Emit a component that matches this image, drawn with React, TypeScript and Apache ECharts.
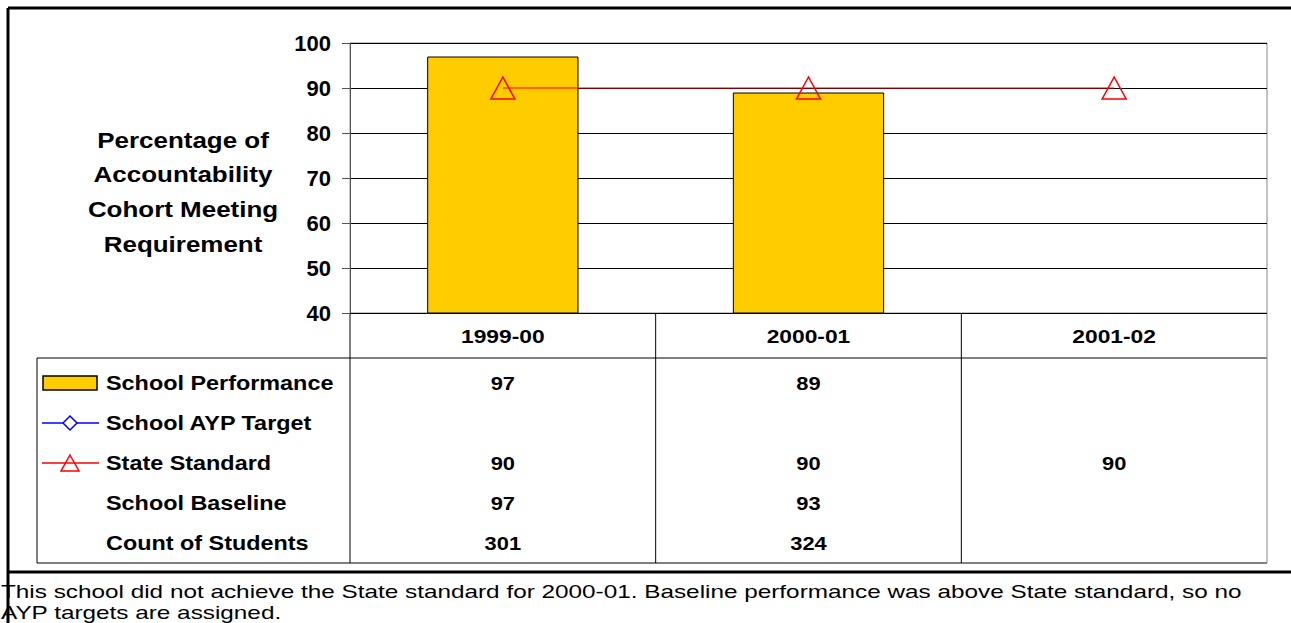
import React, { useEffect, useRef } from "react";
import * as echarts from "echarts";

const categories = ["1999-00", "2000-01", "2001-02"];
const schoolPerformance: (number | null)[] = [97, 89, null];
const aypTarget: (number | null)[] = [null, null, null];
const stateStandard: (number | null)[] = [90, 90, 90];
const schoolBaseline: (number | null)[] = [97, 93, null];
const countStudents: (number | null)[] = [301, 324, null];
const rowLabels = ["School Performance", "School AYP Target", "State Standard", "School Baseline", "Count of Students"];
const yTitle = ["Percentage of", "Accountability", "Cohort Meeting", "Requirement"];
const footnote = [
  "This school did not achieve the State standard for 2000-01. Baseline performance was above State standard, so no",
  "AYP targets are assigned.",
];

const W = 1291, H = 623;
const GL = 350, GR = 1267, GT = 43, GB = 313;
const F = "Arial, 'Liberation Sans', sans-serif";

export default function App() {
  const ref = useRef<HTMLDivElement>(null);
  useEffect(() => {
    const chart = echarts.init(ref.current!, null, { renderer: "svg" });
    const colW = (GR - GL) / categories.length;
    const rowY = [383, 423, 463, 503, 543];
    const rows = [schoolPerformance, aypTarget, stateStandard, schoolBaseline, countStudents];
    const g: any[] = [];
    const ln = (x1: number, y1: number, x2: number, y2: number, w = 1, c = "#000") =>
      g.push({ type: "line", shape: { x1, y1, x2, y2 }, style: { stroke: c, lineWidth: w }, silent: true });
    const tx = (x: number, y: number, text: string, font: string, align: string, sx = 1) =>
      g.push({ type: "text", x, y, scaleX: sx, style: { text, font, fill: "#000", align, verticalAlign: "middle" } });
    // outer frame
    ln(8, 8, W, 8, 3); ln(8, 8, 8, H, 3); ln(8, 572, W, 572, 3);
    // table
    ln(37, 358, GR, 358); ln(37, 563, GR, 563); ln(37, 358, 37, 563);
    for (let i = 0; i <= categories.length; i++) ln(GL + colW * i, 313, GL + colW * i, 563, 1, i === categories.length ? "#888" : "#000");
    categories.forEach((c, i) => tx(GL + colW * (i + 0.5), 336, c, `bold 19px ${F}`, "center", 1.2));
    rowLabels.forEach((l, r) => {
      tx(106, rowY[r], l, `bold 20px ${F}`, "left", 1.17);
      rows[r].forEach((v, i) => {
        if (v != null) tx(GL + colW * (i + 0.5), rowY[r], String(v), `bold 19px ${F}`, "center", 1.15);
      });
    });
    // legend keys
    g.push({ type: "rect", shape: { x: 43, y: 376, width: 54, height: 14 }, style: { fill: "#FFCC00", stroke: "#000", lineWidth: 1.5 } });
    ln(42, 423, 99, 423, 1.5, "#0000ff");
    g.push({ type: "polygon", shape: { points: [[70, 416], [77, 423], [70, 430], [63, 423]] }, style: { fill: "#fff", stroke: "#0000ff", lineWidth: 1.5 } });
    ln(42, 463, 99, 463, 1.5, "#ff0000");
    g.push({ type: "polygon", shape: { points: [[70, 455], [79, 471], [61, 471]] }, style: { fill: "none", stroke: "#ff0000", lineWidth: 1.5 } });
    // y title
    yTitle.forEach((t, i) => tx(183, 140 + i * 34.7, t, `bold 22px ${F}`, "center", 1.18));
    footnote.forEach((t, i) => tx(1, 591 + i * 21, t, `19px ${F}`, "left", 1.28));

    chart.setOption({
      animation: false,
      backgroundColor: "#fff",
      grid: { left: GL, right: W - GR, top: GT, bottom: H - GB, show: true, borderColor: "#888", borderWidth: 1 },
      xAxis: {
        type: "category", data: categories, boundaryGap: true,
        axisLabel: { show: false }, axisTick: { show: false }, axisLine: { show: false },
      },
      yAxis: {
        type: "value", min: 40, max: 100, interval: 10,
        axisLine: { show: true, lineStyle: { color: "#555" } },
        axisTick: { show: true, inside: false, length: 8, lineStyle: { color: "#555" } },
        axisLabel: { fontFamily: F, fontWeight: "bold", fontSize: 22, color: "#000", margin: 19 },
        splitLine: { show: true, lineStyle: { color: "#000", width: 1 } },
      },
      series: [
        { name: "School Performance", type: "bar", data: schoolPerformance, barWidth: "49.5%",
          itemStyle: { color: "#FFCC00", borderColor: "#000", borderWidth: 1 } },
        { name: "School AYP Target", type: "line", data: aypTarget, symbol: "diamond", symbolSize: 14,
          lineStyle: { color: "#0000ff", width: 1 }, itemStyle: { color: "#fff", borderColor: "#0000ff" } },
        { name: "State Standard", type: "line", data: stateStandard, symbol: "triangle", symbolSize: [24, 22],
          lineStyle: { color: "#ff0000", width: 1 },
          itemStyle: { color: "rgba(0,0,0,0)", borderColor: "#ff0000", borderWidth: 1.5 } },
      ],
      graphic: g,
    });
    return () => chart.dispose();
  }, []);
  return <div ref={ref} style={{ position: "absolute", left: 0, top: 0, width: W, height: H }} />;
}
